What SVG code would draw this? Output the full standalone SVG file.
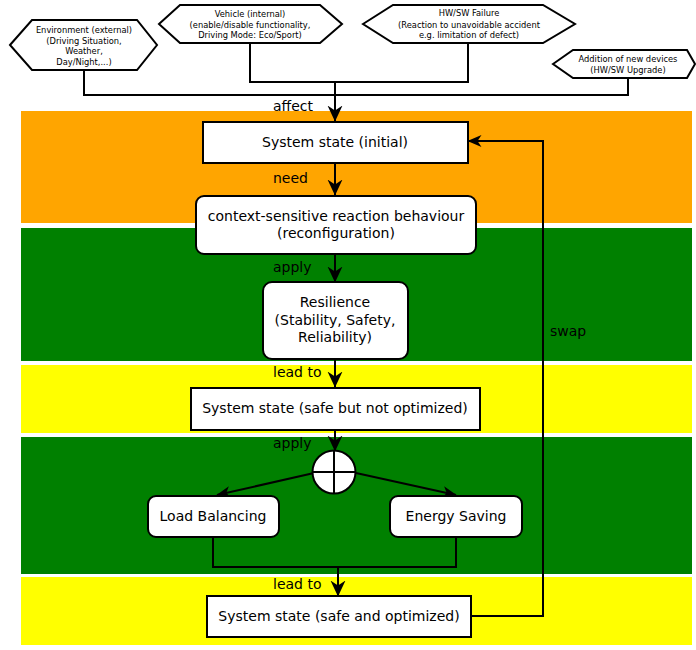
<svg xmlns="http://www.w3.org/2000/svg" width="696" height="650" viewBox="0 0 696 650">
<style>
.band{stroke:none}
.box{fill:#fff;stroke:#000;stroke-width:2}
.hex{fill:#fff;stroke:#000;stroke-width:2}
.t{font-family:"DejaVu Sans",sans-serif;font-size:14px;fill:#000;text-anchor:middle}
.s{font-family:"DejaVu Sans",sans-serif;font-size:8.3px;fill:#000;text-anchor:middle}
.lbl{font-family:"DejaVu Sans",sans-serif;font-size:14px;fill:#000}
.c{fill:none;stroke:#000;stroke-width:2}
.a{fill:none;stroke:#000;stroke-width:2;marker-end:url(#ah)}
.am{fill:none;stroke:#000;stroke-width:2;marker-end:url(#am)}
</style>
<defs>
<marker id="ah" markerUnits="userSpaceOnUse" markerWidth="16" markerHeight="16" viewBox="0 0 16 16" refX="15.5" refY="8" orient="auto">
<path d="M0,0.5 L16,8 L0,15.5 L5,8 z" fill="#000"/>
</marker>
<marker id="am" markerUnits="userSpaceOnUse" markerWidth="14" markerHeight="14" viewBox="0 0 14 14" refX="13.5" refY="7" orient="auto">
<path d="M0,1 L14,7 L0,13 L4,7 z" fill="#000"/>
</marker>
</defs>
<rect width="696" height="650" fill="#fff"/>
<g id="bands">
<rect class="band" x="21" y="111" width="671" height="112" fill="#ffa500"/>
<rect class="band" x="21" y="228" width="671" height="133" fill="#008000"/>
<rect class="band" x="21" y="365" width="671" height="68" fill="#ffff00"/>
<rect class="band" x="21" y="437" width="671" height="137" fill="#008000"/>
<rect class="band" x="21" y="577" width="671" height="68" fill="#ffff00"/>
</g>
<g id="connectors">
<polyline class="c" points="84,70 84,95 628,95 628,78"/>
<polyline class="c" points="250,43 250,82 468,82 468,43"/>
<line class="a" x1="335" y1="82" x2="335" y2="121"/>
<line class="a" x1="335" y1="163" x2="335" y2="195"/>
<line class="a" x1="335" y1="254" x2="335" y2="282"/>
<line class="a" x1="335" y1="359" x2="335" y2="387"/>
<line class="a" x1="335" y1="430" x2="335" y2="451"/>
<line class="am" x1="314" y1="473" x2="217" y2="495"/>
<line class="am" x1="356" y1="473" x2="456" y2="495"/>
<polyline class="c" points="213,537 213,567 456,567 456,537"/>
<line class="a" x1="338" y1="567" x2="338" y2="596"/>
<polyline class="am" points="471,616 543,616 543,141 468,141"/>
<text class="lbl" x="273" y="111">affect</text>
<text class="lbl" x="273" y="183">need</text>
<text class="lbl" x="273" y="272">apply</text>
<text class="lbl" x="273" y="377">lead to</text>
<text class="lbl" x="273" y="448">apply</text>
<text class="lbl" x="273" y="589">lead to</text>
<text class="lbl" x="550" y="336">swap</text>
</g>
<g id="env">
<polygon class="hex" points="10,45 32,20 137,20 157,45 137,70 32,70"/>
<text class="s" x="84" y="33">Environment (external)</text>
<text class="s" x="84" y="44">(Driving Situation,</text>
<text class="s" x="84" y="54">Weather,</text>
<text class="s" x="84" y="65">Day/Night,...)</text>
</g>
<g id="vehicle">
<polygon class="hex" points="159,24 180,5 320,5 342,24 320,43 180,43"/>
<text class="s" x="250" y="17">Vehicle (internal)</text>
<text class="s" x="250" y="28">(enable/disable functionality,</text>
<text class="s" x="250" y="38">Driving Mode: Eco/Sport)</text>
</g>
<g id="failure">
<polygon class="hex" points="363,24 393,5 543,5 575,24 543,43 393,43"/>
<text class="s" x="469" y="16">HW/SW Failure</text>
<text class="s" x="469" y="28">(Reaction to unavoidable accident</text>
<text class="s" x="469" y="38">e.g. limitation of defect)</text>
</g>
<g id="addition">
<polygon class="hex" points="553,64 573,50 687,50 695,64 687,78 573,78"/>
<text class="s" x="628" y="62">Addition of new devices</text>
<text class="s" x="628" y="73">(HW/SW Upgrade)</text>
</g>
<g id="initial">
<rect class="box" x="203" y="122" width="265" height="41"/>
<text class="t" x="335" y="147">System state (initial)</text>
</g>
<g id="context">
<rect class="box" x="196" y="196" width="280" height="58" rx="8"/>
<text class="t" x="336" y="221">context-sensitive reaction behaviour</text>
<text class="t" x="336" y="238">(reconfiguration)</text>
</g>
<g id="resilience">
<rect class="box" x="263" y="282" width="145" height="77" rx="9"/>
<text class="t" x="335" y="307">Resilience</text>
<text class="t" x="335" y="325">(Stability, Safety,</text>
<text class="t" x="335" y="342">Reliability)</text>
</g>
<g id="safe-not-opt">
<rect class="box" x="191" y="388" width="289" height="42"/>
<text class="t" x="335" y="413">System state (safe but not optimized)</text>
</g>
<g id="junction">
<circle cx="334" cy="472" r="21.5" fill="#fff" stroke="#000" stroke-width="2"/>
<line x1="312.5" y1="472" x2="355.5" y2="472" stroke="#000" stroke-width="2"/>
<line x1="334" y1="450.5" x2="334" y2="493.5" stroke="#000" stroke-width="2"/>
</g>
<g id="load">
<rect class="box" x="148" y="496" width="131" height="41" rx="8"/>
<text class="t" x="213" y="521">Load Balancing</text>
</g>
<g id="energy">
<rect class="box" x="390" y="496" width="132" height="41" rx="8"/>
<text class="t" x="456" y="521">Energy Saving</text>
</g>
<g id="safe-opt">
<rect class="box" x="207" y="596" width="264" height="41"/>
<text class="t" x="339" y="621">System state (safe and optimized)</text>
</g>
</svg>
